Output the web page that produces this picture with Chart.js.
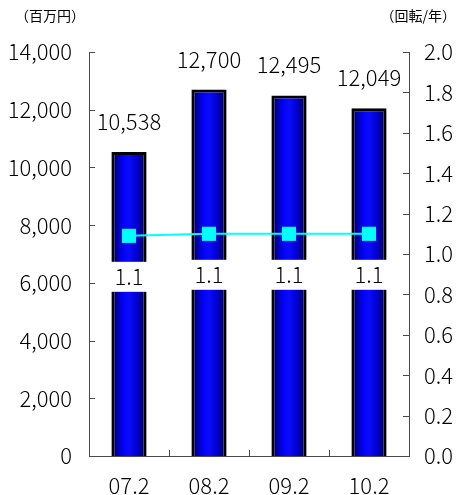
<!DOCTYPE html>
<html>
<head>
<meta charset="utf-8">
<script src="https://cdn.jsdelivr.net/npm/chart.js@4"></script>
<style>
  html, body { margin: 0; padding: 0; background: #fff; }
  #wrap { width: 460px; height: 495px; position: relative; }
</style>
</head>
<body>
<div id="wrap"><canvas id="chart" width="460" height="495"></canvas></div>
<script>
// Datos del gráfico
const categories = ['07.2', '08.2', '09.2', '10.2'];
const salesValues = [10538, 12700, 12495, 12049];       // 百万円
const turnoverValues = [1.09, 1.1, 1.1, 1.1];           // 回転/年
const turnoverLabels = ['1.1', '1.1', '1.1', '1.1'];
const leftUnit = '（百万円）';
const rightUnit = '（回転/年）';

const FONT = '"Noto Sans CJK JP", sans-serif';
const WEIGHT = 300;
const BAR_PCT = 0.44;
const AXIS_COLOR = '#4a4a4a';

// Gradiente horizontal de cada barra (negro en bordes, azul en el centro)
function barGradient(ctx) {
    const chart = ctx.chart;
    const xs = chart.scales.x;
    if (!xs || ctx.dataIndex === undefined) return '#0000ff';
    const cx = xs.getPixelForValue(ctx.dataIndex);
    const half = xs.width / categories.length * BAR_PCT / 2;
    if (!isFinite(cx) || !isFinite(half) || half <= 0) return '#0000ff';
    const g = chart.ctx.createLinearGradient(cx - half, 0, cx + half, 0);
    g.addColorStop(0, '#000040');
    g.addColorStop(0.3, '#0000f0');
    g.addColorStop(0.5, '#0a0aff');
    g.addColorStop(0.75, '#0000c8');
    g.addColorStop(1, '#000030');
    return g;
}

// Marcas de escala hacia dentro + textos extra
const decorPlugin = {
    id: 'decor',
    afterDraw(chart) {
        const { ctx, chartArea: a, scales } = chart;
        ctx.save();
        ctx.strokeStyle = AXIS_COLOR;
        ctx.lineWidth = 1;
        ctx.beginPath();
        scales.y.ticks.forEach(t => {
            const y = Math.round(scales.y.getPixelForValue(t.value)) + 0.5;
            ctx.moveTo(a.left, y); ctx.lineTo(a.left + 6, y);
        });
        scales.y1.ticks.forEach(t => {
            const y = Math.round(scales.y1.getPixelForValue(t.value)) + 0.5;
            ctx.moveTo(a.right, y); ctx.lineTo(a.right - 6, y);
        });
        const step = (a.right - a.left) / categories.length;
        for (let i = 0; i <= categories.length; i++) {
            const x = Math.round(a.left + i * step) + 0.5;
            ctx.moveTo(x, a.bottom); ctx.lineTo(x, a.bottom - 6);
        }
        ctx.stroke();

        // unidades
        ctx.fillStyle = '#000';
        ctx.font = '14px ' + FONT;
        ctx.textBaseline = 'middle';
        ctx.textAlign = 'left';
        ctx.fillText(leftUnit, 15, 16);
        ctx.textAlign = 'right';
        ctx.fillText(rightUnit, 456, 16);
        ctx.restore();
    },
    afterDatasetsDraw(chart) {
        const { ctx } = chart;
        const barMeta = chart.getDatasetMeta(1);
        const lineMeta = chart.getDatasetMeta(0);
        ctx.save();
        ctx.font = WEIGHT + ' 22px ' + FONT;
        ctx.fillStyle = '#000';
        ctx.textAlign = 'center';
        ctx.textBaseline = 'alphabetic';
        barMeta.data.forEach((bar, i) => {
            ctx.fillText(salesValues[i].toLocaleString('en-US'), bar.x, bar.y - 22);
        });
        lineMeta.data.forEach((pt, i) => {
            const cy = pt.y + 41;
            ctx.fillStyle = '#fff';
            ctx.fillRect(pt.x - 19, cy - 15, 38, 30);
            ctx.fillStyle = '#000';
            ctx.textBaseline = 'middle';
            ctx.fillText(turnoverLabels[i], pt.x, cy);
        });
        ctx.restore();
    }
};

const tickFont = { family: FONT, size: 22, weight: WEIGHT };

const chart = new Chart(document.getElementById('chart'), {
    data: {
        labels: categories,
        datasets: [
            {
                type: 'line',
                label: '回転',
                data: turnoverValues,
                yAxisID: 'y1',
                order: 0,
                borderColor: '#00ffff',
                borderWidth: 2,
                pointStyle: 'rect',
                pointRadius: 10,
                pointBackgroundColor: '#00ffff',
                pointBorderColor: '#00ffff',
                pointBorderWidth: 0,
                tension: 0
            },
            {
                type: 'bar',
                label: '売上',
                data: salesValues,
                yAxisID: 'y',
                order: 1,
                backgroundColor: barGradient,
                borderColor: '#000',
                borderWidth: 3,
                barPercentage: BAR_PCT,
                categoryPercentage: 1
            }
        ]
    },
    options: {
        responsive: false,
        animation: false,
        layout: { padding: { top: 52, right: 0, left: 0, bottom: 0 } },
        plugins: { legend: { display: false }, tooltip: { enabled: false } },
        scales: {
            x: {
                grid: { display: false, drawTicks: false },
                border: { display: true, color: AXIS_COLOR, width: 1 },
                ticks: { color: '#000', font: tickFont, padding: 16 },
                afterFit(s) { s.height = 39; }
            },
            y: {
                position: 'left',
                min: 0, max: 14000,
                grid: { display: false, drawTicks: false },
                border: { display: true, color: AXIS_COLOR, width: 1 },
                ticks: {
                    stepSize: 2000,
                    color: '#000',
                    font: tickFont,
                    padding: 17,
                    callback: v => v.toLocaleString('en-US')
                },
                afterFit(s) { s.width = 89; }
            },
            y1: {
                position: 'right',
                min: 0, max: 2,
                grid: { display: false, drawTicks: false },
                border: { display: true, color: AXIS_COLOR, width: 1 },
                ticks: {
                    stepSize: 0.2,
                    color: '#000',
                    font: tickFont,
                    padding: 15,
                    callback: v => v.toFixed(1)
                },
                afterFit(s) { s.width = 51; }
            }
        }
    },
    plugins: [decorPlugin]
});
</script>
</body>
</html>
